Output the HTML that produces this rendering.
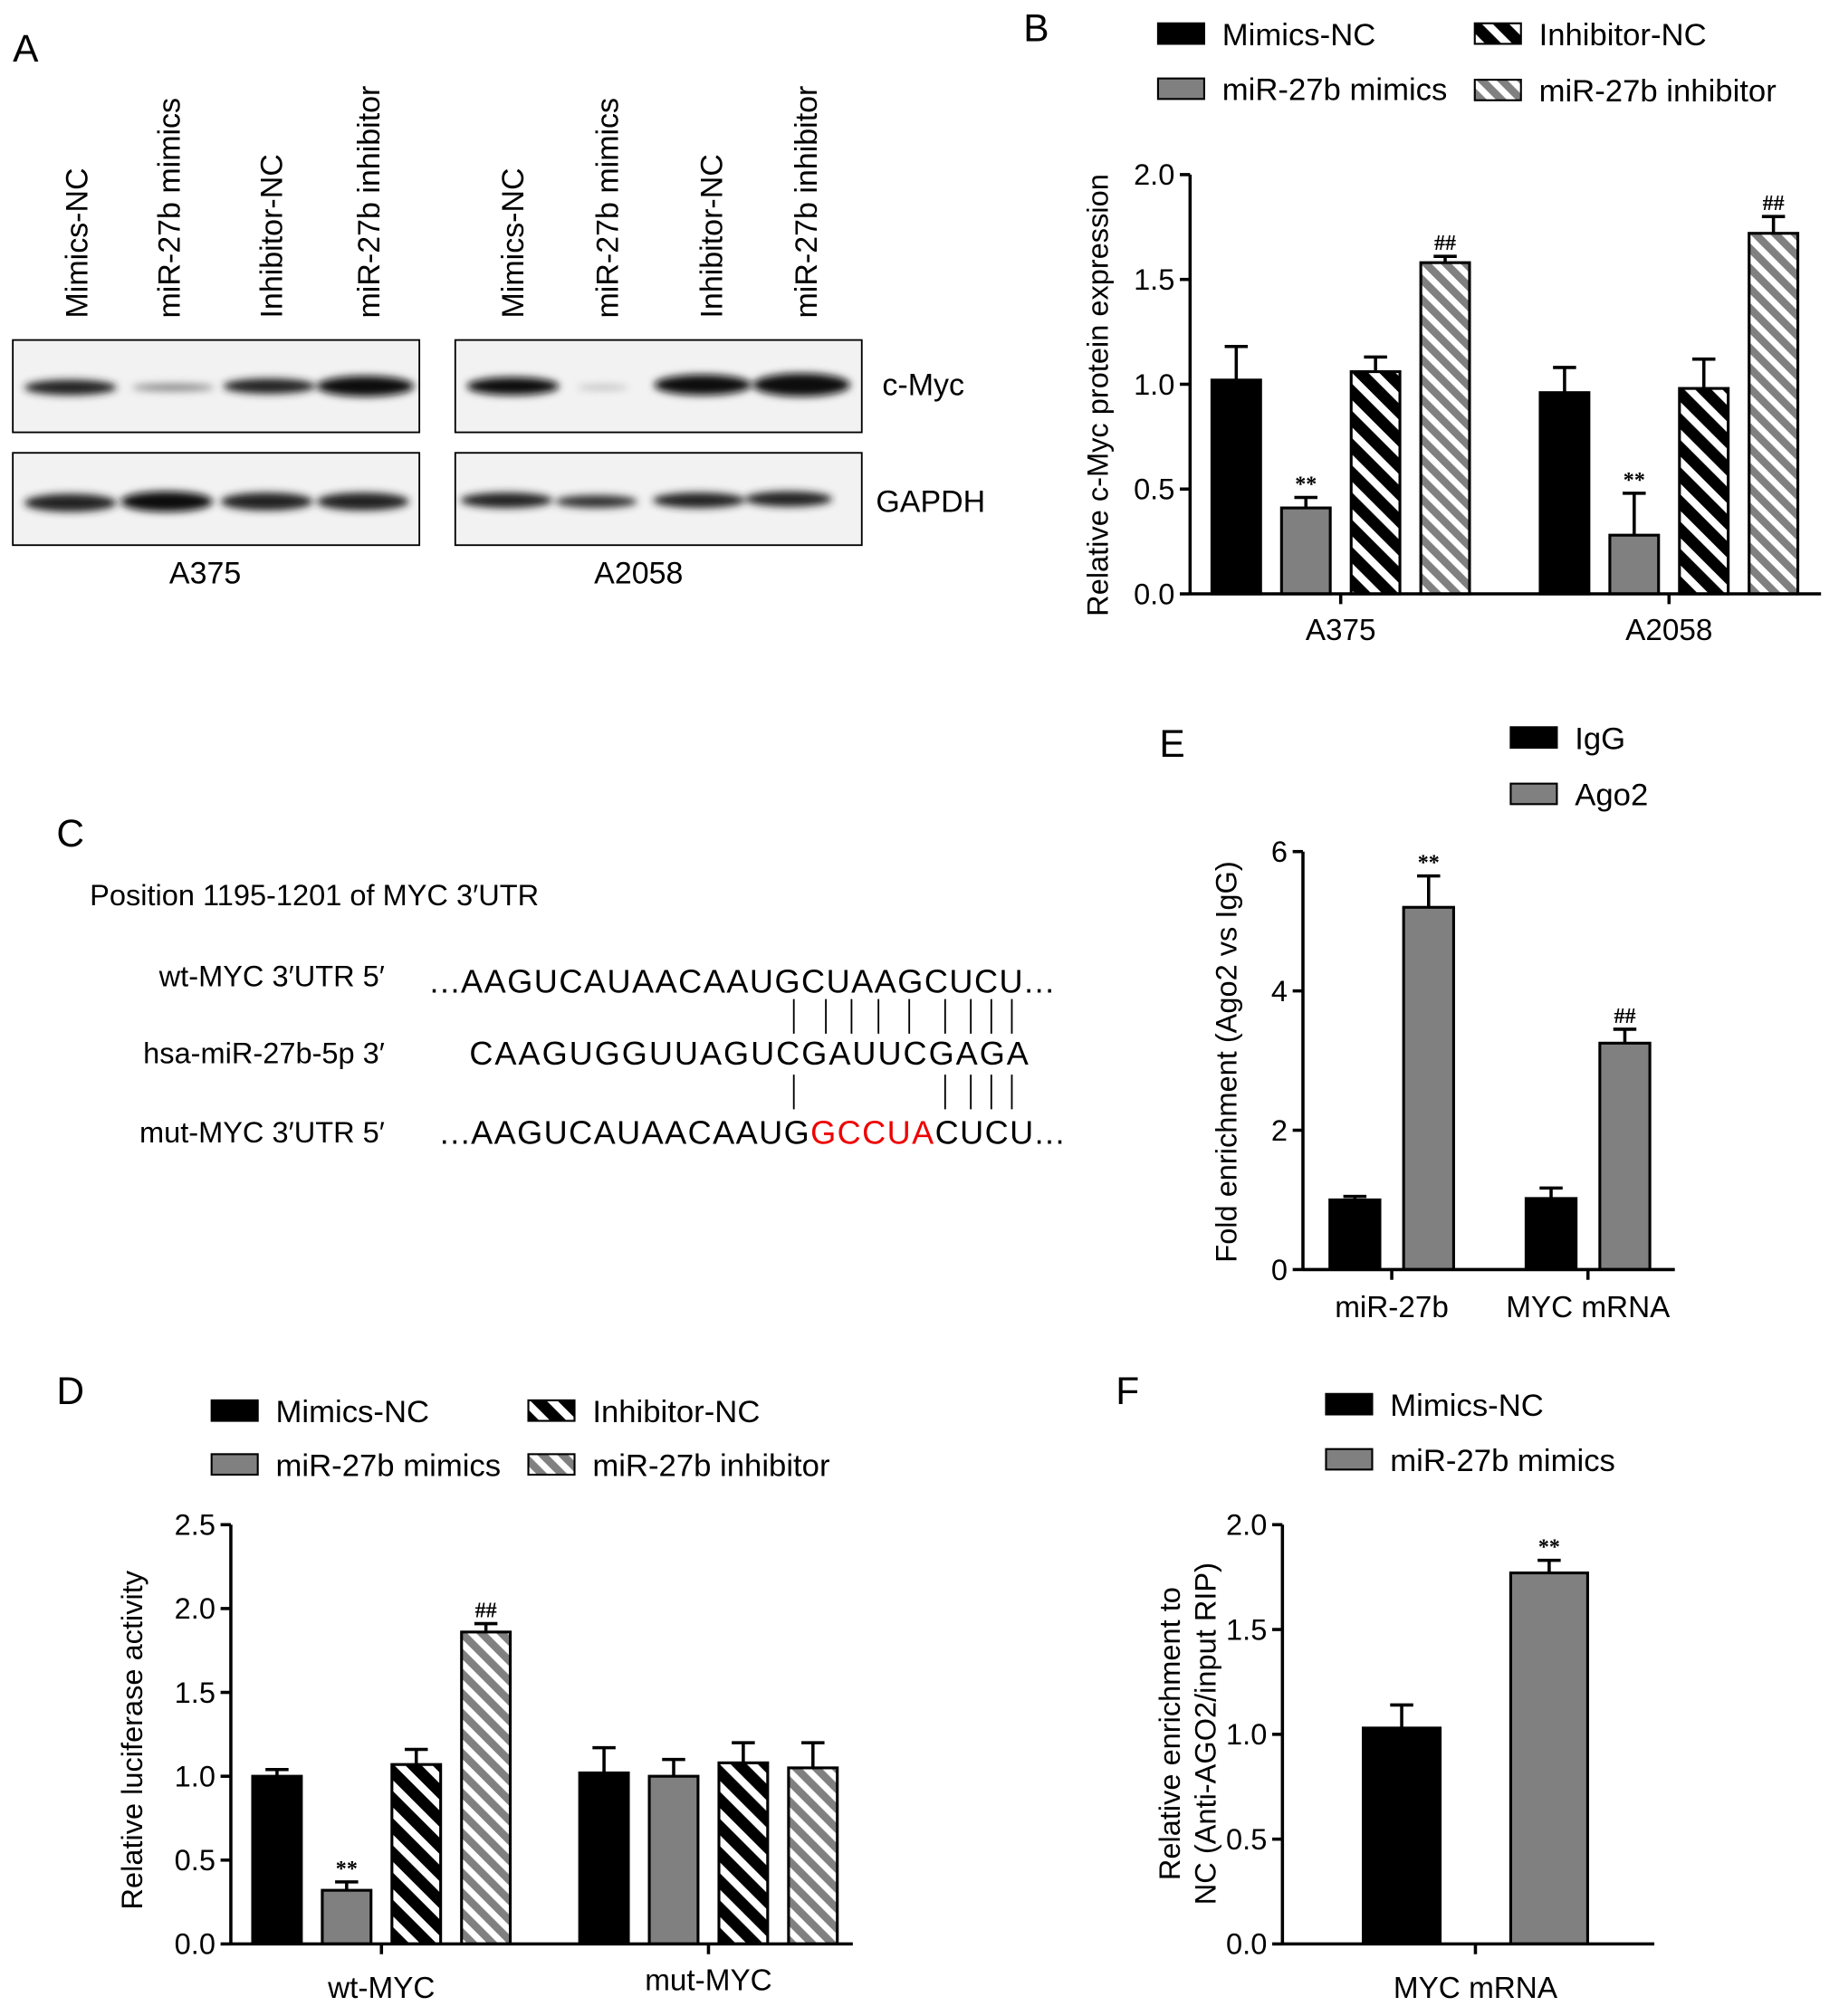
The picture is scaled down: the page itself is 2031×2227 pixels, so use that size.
<!DOCTYPE html>
<html><head><meta charset="utf-8">
<style>
html,body{margin:0;padding:0;background:#fff;}
svg{display:block;font-family:"Liberation Sans",Arial,sans-serif;}
</style></head>
<body>
<svg id="fig" width="2031" height="2227" viewBox="0 0 1434 1572" xmlns="http://www.w3.org/2000/svg">
<defs>
<pattern id="hatchBlack" patternUnits="userSpaceOnUse" width="15" height="15" patternTransform="rotate(-45)">
<rect width="15" height="15" fill="#fff"/><rect width="9" height="15" fill="#000"/>
</pattern>
<pattern id="hatchGrey" patternUnits="userSpaceOnUse" width="11" height="11" patternTransform="rotate(-45)">
<rect width="11" height="11" fill="#fff"/><rect width="6" height="11" fill="#808080"/>
</pattern>
<filter id="blur"><feGaussianBlur stdDeviation="3"/></filter>
</defs>

<g font-size="30">
<text x="10" y="48">A</text><text x="798" y="32">B</text><text x="44" y="660">C</text>
<text x="44" y="1095">D</text><text x="904" y="590">E</text><text x="870" y="1095">F</text>
</g>

<g id="blots" font-size="24">
<rect x="10" y="265" width="317" height="72" fill="#f2f2f2" stroke="#000" stroke-width="1.3"/>
<rect x="10" y="353" width="317" height="72" fill="#f2f2f2" stroke="#000" stroke-width="1.3"/>
<rect x="355" y="265" width="317" height="72" fill="#f2f2f2" stroke="#000" stroke-width="1.3"/>
<rect x="355" y="353" width="317" height="72" fill="#f2f2f2" stroke="#000" stroke-width="1.3"/>
<g filter="url(#blur)">
<ellipse cx="55" cy="302" rx="36" ry="6" fill="#222"/>
<ellipse cx="135" cy="302" rx="32" ry="3" fill="#888"/>
<ellipse cx="210" cy="301" rx="36" ry="6" fill="#222"/>
<ellipse cx="285" cy="301" rx="38" ry="8" fill="#111"/>
<ellipse cx="55" cy="392" rx="36" ry="7" fill="#222"/>
<ellipse cx="130" cy="391" rx="36" ry="8" fill="#111"/>
<ellipse cx="208" cy="391" rx="36" ry="7" fill="#222"/>
<ellipse cx="283" cy="391" rx="36" ry="7" fill="#222"/>
<ellipse cx="400" cy="301" rx="36" ry="7" fill="#111"/>
<ellipse cx="470" cy="302" rx="20" ry="2" fill="#bbb"/>
<ellipse cx="548" cy="300" rx="38" ry="8" fill="#111"/>
<ellipse cx="625" cy="300" rx="38" ry="9" fill="#111"/>
<ellipse cx="395" cy="390" rx="36" ry="6" fill="#222"/>
<ellipse cx="465" cy="391" rx="32" ry="5" fill="#333"/>
<ellipse cx="545" cy="390" rx="36" ry="6" fill="#222"/>
<ellipse cx="615" cy="389" rx="34" ry="6" fill="#222"/>
</g>
<g>
<text transform="translate(68,248) rotate(-90)">Mimics-NC</text>
<text transform="translate(140,248) rotate(-90)">miR-27b mimics</text>
<text transform="translate(220,248) rotate(-90)">Inhibitor-NC</text>
<text transform="translate(296,248) rotate(-90)">miR-27b inhibitor</text>
<text transform="translate(408,248) rotate(-90)">Mimics-NC</text>
<text transform="translate(482,248) rotate(-90)">miR-27b mimics</text>
<text transform="translate(563,248) rotate(-90)">Inhibitor-NC</text>
<text transform="translate(637,248) rotate(-90)">miR-27b inhibitor</text>
</g>
<text x="688" y="308">c-Myc</text>
<text x="683" y="399">GAPDH</text>
<text x="160" y="455" text-anchor="middle">A375</text>
<text x="498" y="455" text-anchor="middle">A2058</text>
</g>

<g font-size="23">
<text x="70" y="706">Position 1195-1201 of MYC 3′UTR</text>
<text x="300" y="769" text-anchor="end">wt-MYC 3′UTR 5′</text>
<text x="300" y="829" text-anchor="end">hsa-miR-27b-5p 3′</text>
<text x="300" y="891" text-anchor="end">mut-MYC 3′UTR 5′</text>
<text x="335" y="774" font-size="25.5" textLength="487">...AAGUCAUAACAAUGCUAAGCUCU...</text>
<text x="366" y="830" font-size="25.5" textLength="436">CAAGUGGUUAGUCGAUUCGAGA</text>
<text x="343" y="892" font-size="25.5" textLength="487">...AAGUCAUAACAAUG<tspan fill="#e00">GCCUA</tspan>CUCU...</text>
<g stroke="#000" stroke-width="1.3">
<path d="M619 779V806M644 779V806M664 779V806M685 779V806M709 779V806M737 779V806M757 779V806M773 779V806M789 779V806"/>
<path d="M619 838V865M737 838V865M757 838V865M773 838V865M789 838V865"/>
</g>
</g>

<g id="charts"></g>
</svg>

<script>
// Panel B data
const bCats = ["A375", "A2058"];
const bSeries = ["Mimics-NC", "miR-27b mimics", "Inhibitor-NC", "miR-27b inhibitor"];
const bVals = [[1.02, 0.96], [0.41, 0.28], [1.06, 0.98], [1.58, 1.72]];
const bErr = [[0.16, 0.12], [0.05, 0.20], [0.07, 0.14], [0.03, 0.08]];
const bMarks = [["", ""], ["**", "**"], ["", ""], ["##", "##"]];
const bTicks = [0, 0.5, 1.0, 1.5, 2.0];
// Panel D data
const dCats = ["wt-MYC", "mut-MYC"];
const dVals = [[1.0, 1.02], [0.32, 1.0], [1.07, 1.08], [1.86, 1.05]];
const dErr = [[0.04, 0.15], [0.05, 0.10], [0.09, 0.12], [0.05, 0.15]];
const dMarks = [["", ""], ["**", ""], ["", ""], ["##", ""]];
const dTicks = [0, 0.5, 1.0, 1.5, 2.0, 2.5];
// Panel E data
const eCats = ["miR-27b", "MYC mRNA"];
const eSeries = ["IgG", "Ago2"];
const eVals = [[1.0, 1.02], [5.2, 3.25]];
const eErr = [[0.05, 0.15], [0.45, 0.2]];
const eMarks = [["", ""], ["**", "##"]];
const eTicks = [0, 2, 4, 6];
// Panel F data
const fCats = ["MYC mRNA"];
const fSeries = ["Mimics-NC", "miR-27b mimics"];
const fVals = [[1.03], [1.77]];
const fErr = [[0.11], [0.06]];
const fMarks = [[""], ["**"]];
const fTicks = [0, 0.5, 1.0, 1.5, 2.0];

const NS = "http://www.w3.org/2000/svg";
const root = document.getElementById("charts");
function mk(tag, attrs, parent, txt) {
  const e = document.createElementNS(NS, tag);
  for (const k in attrs) e.setAttribute(k, attrs[k]);
  if (txt !== undefined) e.textContent = txt;
  (parent || root).appendChild(e);
  return e;
}
const fills = ["#000", "#808080", "url(#hatchBlack)", "url(#hatchGrey)"];

function drawChart(cfg) {
  const g = mk("g", {});
  
  
  const y = v => cfg.y0 - (v - cfg.min) / (cfg.max - cfg.min) * (cfg.y0 - cfg.y1);
  cfg.vals.forEach((ser, si) => {
    ser.forEach((v, ci) => {
      const x = cfg.groupX[ci] + si * cfg.step;
      const top = y(v), et = y(v + cfg.err[si][ci]);
      const ln = mk("line", {x1: x + cfg.bw / 2, x2: x + cfg.bw / 2, y1: top, y2: et, stroke: "#000", "stroke-width": 2.5}, g);
      
      
      const cap = mk("line", {x1: x + cfg.bw / 2 - 9, x2: x + cfg.bw / 2 + 9, y1: et, y2: et, stroke: "#000", "stroke-width": 2.5}, g);
      
      
      const r = mk("rect", {x: x, y: top, width: cfg.bw, height: cfg.y0 - top, fill: fills[si], stroke: "#000", "stroke-width": 2.2}, g);
      
      
      const m = cfg.marks[si][ci];
      if (m) {
        const t = mk("text", {x: x + cfg.bw / 2, y: et - 5, "font-size": 17, "font-weight": "bold", "font-family": "Liberation Serif, serif", "text-anchor": "middle"}, g, m);
        
        
      }
    });
  });
  const ya = mk("line", {x1: cfg.ax, x2: cfg.ax, y1: cfg.y1, y2: cfg.y0 + 1, stroke: "#000", "stroke-width": 2.5}, g);
  
  
  const xa = mk("line", {x1: cfg.ax, x2: cfg.axEnd, y1: cfg.y0, y2: cfg.y0, stroke: "#000", "stroke-width": 2.5}, g);
  
  
  cfg.ticks.forEach(t => {
    mk("line", {x1: cfg.ax - 8, x2: cfg.ax, y1: y(t), y2: y(t), stroke: "#000", "stroke-width": 2.5}, g);
    const lb = mk("text", {x: cfg.ax - 12, y: y(t) + 8, "font-size": 23, "text-anchor": "end"}, g, cfg.dec ? t.toFixed(1) : String(t));
    
    
  });
  cfg.cats.forEach((c, ci) => {
    const cx = cfg.groupX[ci] + ((cfg.vals.length - 1) * cfg.step + cfg.bw) / 2;
    mk("line", {x1: cx, x2: cx, y1: cfg.y0, y2: cfg.y0 + 8, stroke: "#000", "stroke-width": 2.5}, g);
    const lb = mk("text", {x: cx, y: cfg.catY[ci], "font-size": 23.5, "text-anchor": "middle"}, g, c);
    
    
  });
  cfg.ylabel.forEach((s, i) => {
    const lb = mk("text", {transform: `translate(${cfg.ylx[i]},${cfg.yly}) rotate(-90)`, "font-size": 23, "text-anchor": "middle"}, g, s);
    
    
  });
  cfg.legend.forEach((L, i) => {
    const r = mk("rect", {x: L[1], y: L[2], width: 36, height: 16, fill: fills[i], stroke: "#000", "stroke-width": 1.5}, g);
    
    
    const t = mk("text", {x: L[1] + 50, y: L[2] + 17, "font-size": 24.5}, g, L[0]);
    
    
  });
}

drawChart({name: "chart-b", cats: bCats, vals: bVals, err: bErr, marks: bMarks, ticks: bTicks, dec: true,
  min: 0, max: 2, y0: 463, y1: 136, ax: 928, axEnd: 1420, groupX: [945, 1201], step: 54.3, bw: 38,
  catY: [499, 499], ylabel: ["Relative c-Myc protein expression"], ylx: [864], yly: 308,
  legend: [[bSeries[0], 903, 18], [bSeries[1], 903, 61], [bSeries[2], 1150, 18], [bSeries[3], 1150, 62]]});
drawChart({name: "chart-d", cats: dCats, vals: dVals, err: dErr, marks: dMarks, ticks: dTicks, dec: true,
  min: 0, max: 2.5, y0: 1516, y1: 1189, ax: 180, axEnd: 665, groupX: [197, 452], step: 54.3, bw: 38,
  catY: [1558, 1552], ylabel: ["Relative luciferase activity"], ylx: [111], yly: 1357,
  legend: [[bSeries[0], 165, 1092], [bSeries[1], 165, 1134], [bSeries[2], 412, 1092], [bSeries[3], 412, 1134]]});
drawChart({name: "chart-e", cats: eCats, vals: eVals, err: eErr, marks: eMarks, ticks: eTicks, dec: false,
  min: 0, max: 6, y0: 990, y1: 664, ax: 1016, axEnd: 1306, groupX: [1037, 1190], step: 57.5, bw: 39,
  catY: [1027, 1027], ylabel: ["Fold enrichment (Ago2 vs IgG)"], ylx: [964], yly: 828,
  legend: [[eSeries[0], 1178, 567], [eSeries[1], 1178, 611]]});
drawChart({name: "chart-f", cats: fCats, vals: fVals, err: fErr, marks: fMarks, ticks: fTicks, dec: true,
  min: 0, max: 2, y0: 1516, y1: 1189, ax: 1000, axEnd: 1290, groupX: [1063], step: 115, bw: 60,
  catY: [1558], ylabel: ["Relative enrichment to", "NC (Anti-AGO2/input RIP)"], ylx: [920, 948], yly: 1352,
  legend: [[fSeries[0], 1034, 1087], [fSeries[1], 1034, 1130]]});
</script>
</body></html>
